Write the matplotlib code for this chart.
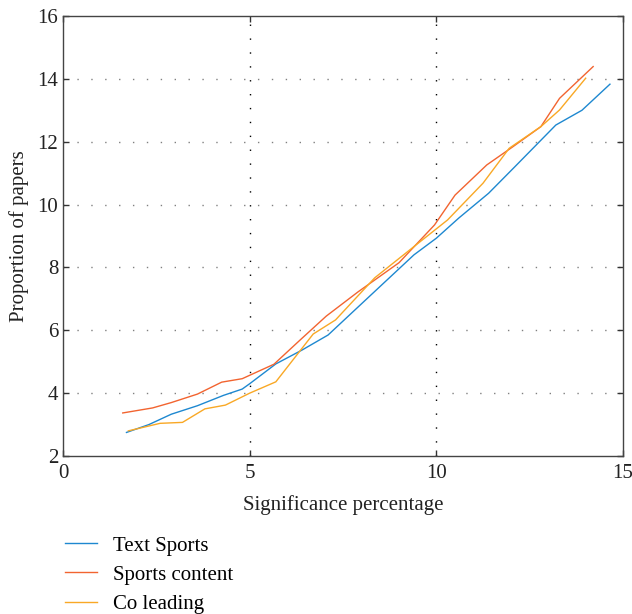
import numpy as np
import matplotlib
matplotlib.use('Agg')
import matplotlib.pyplot as plt

plt.rcParams['font.family'] = ['Liberation Serif', 'DejaVu Serif']

# values
text_x = [1.7, 2.3, 2.9, 3.6, 4.3, 4.8, 5.0, 5.7, 6.4, 7.1, 8.2, 9.4, 10.0, 10.6, 11.4, 12.1, 13.2, 13.9, 14.65]
text_y = [2.75, 3.0, 3.33, 3.6, 3.93, 4.13, 4.3, 4.93, 5.37, 5.85, 7.07, 8.4, 8.93, 9.57, 10.36, 11.2, 12.53, 13.0, 13.83]

content_x = [1.6, 2.4, 2.9, 3.6, 4.25, 4.8, 5.65, 6.35, 7.05, 7.9, 9.0, 9.95, 10.5, 11.35, 12.05, 12.8, 13.3, 14.2]
content_y = [3.37, 3.53, 3.7, 3.97, 4.35, 4.46, 4.92, 5.69, 6.45, 7.22, 8.15, 9.35, 10.3, 11.26, 11.84, 12.48, 13.38, 14.39]

co_x = [1.75, 2.6, 3.2, 3.8, 4.35, 5.0, 5.7, 6.7, 7.3, 8.35, 9.45, 10.3, 11.25, 11.95, 12.8, 13.3, 14.0]
co_y = [2.8, 3.04, 3.07, 3.5, 3.62, 4.0, 4.36, 5.88, 6.33, 7.67, 8.71, 9.51, 10.68, 11.79, 12.48, 13.01, 14.02]

labels = ['Text Sports', 'Sports content', 'Co leading']
colors = ['#1E88D0', '#F26430', '#F9A825']

fig = plt.figure(figsize=(6.32, 6.14), dpi=100)
ax = fig.add_axes([0.0997, 0.2573, 0.8861, 0.7167])

for (xs, ys), lab, c in zip([(text_x, text_y), (content_x, content_y), (co_x, co_y)], labels, colors):
    ax.plot(xs, ys, color=c, lw=1.0, label=lab)

ax.set_xlim(0, 15)
ax.set_ylim(2, 16)
ax.set_xticks([0, 5, 10, 15])
ax.set_yticks(np.arange(2, 17, 2))

for v in [5, 10]:
    ax.axvline(v, color='black', lw=1.0, linestyle=(0, (1, 9)), zorder=0)
for v in range(4, 16, 2):
    ax.axhline(v, color='#808080', lw=1.0, linestyle=(0, (1, 9)), zorder=0)

ax.tick_params(direction='in', length=4, width=1, colors='#333333', labelsize=15,
               top=True, right=True, labelcolor='#222222')
ax.tick_params(axis='x', pad=5.5)
for s in ax.spines.values():
    s.set_color('#444444')
    s.set_linewidth(1.0)

ax.set_xlabel('Significance percentage', fontsize=15, color='#222222', labelpad=9)
ax.set_ylabel('Proportion of papers', fontsize=15, color='#222222', labelpad=6)

fig.legend(loc='upper left', bbox_to_anchor=(0.1028, 0.127), frameon=False, fontsize=15,
           handlelength=1.55, handletextpad=0.75, labelspacing=0.46, borderaxespad=0,
           borderpad=0)

fig.savefig('out.png', dpi=100)
